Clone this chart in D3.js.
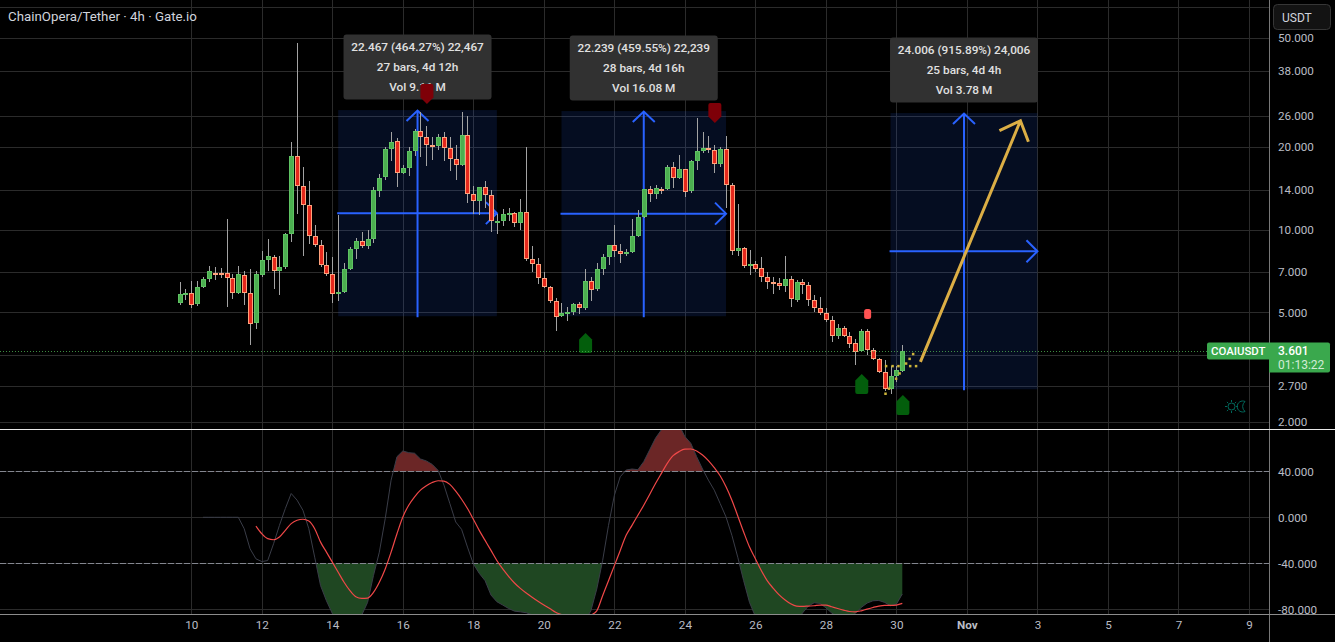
<!DOCTYPE html>
<html>
<head>
<meta charset="utf-8">
<style>
  html, body { margin: 0; background: #000; overflow: hidden; }
  svg { display: block; font-family: Roboto, sans-serif; }
</style>
<script src="https://cdn.jsdelivr.net/npm/d3@7"></script>
</head>
<body>
<svg id="chart" width="1335" height="642"></svg>
<script>
// COAI/USDT 4h candles, first bar at 9 Oct 16:00 UTC
const opens = [5.39,5.80,5.87,5.33,6.17,6.60,6.98,6.96,6.94,6.65,5.87,6.82,5.87,4.56,6.80,7.74,7.94,7.06,7.30,9.63,18.53,14.41,12.28,9.47,
8.78,7.42,6.88,5.80,5.90,7.18,8.49,9.08,8.68,9.23,13.89,15.49,19.65,21.02,16.07,16.76,19.27,22.86,21.74,20.38,20.10,21.74,19.82,18.07,
17.18,22.11,13.47,12.67,14.29,13.36,10.71,10.74,11.45,11.48,10.53,11.58,7.80,7.48,6.65,6.17,5.49,4.82,4.99,4.99,5.35,5.16,6.49,6.05,
7.18,7.94,8.78,8.35,8.12,8.25,9.47,11.07,14.05,13.43,14.09,14.01,16.90,15.36,16.62,13.77,17.77,19.33,19.82,19.49,17.28,19.65,14.53,8.35,
8.56,7.34,7.48,7.24,6.71,6.43,6.38,6.20,6.60,5.56,6.43,6.27,5.53,5.17,4.96,4.68,4.08,4.37,4.09,3.86,3.59,4.26,3.63,3.37,
3.02,2.61,2.91,3.06];
const highs = [6.43,6.07,6.49,6.52,6.75,7.38,7.34,7.26,10.92,6.90,7.38,7.10,7.20,7.10,8.37,9.23,8.09,8.05,9.71,20.90,47.86,16.94,15.07,10.38,
9.15,8.30,7.94,11.29,7.55,8.66,9.36,9.82,9.96,14.37,15.93,20.10,22.67,21.56,17.23,20.10,23.38,26.97,23.91,21.74,22.35,22.67,21.74,20.38,
26.81,26.00,14.45,14.37,15.07,13.97,11.42,11.91,12.04,11.65,12.95,20.10,8.73,7.89,7.04,6.24,5.63,5.39,5.24,5.42,5.47,7.20,6.71,7.59,
8.16,8.80,10.41,8.85,8.49,10.95,11.81,14.13,14.45,14.53,14.37,17.28,17.67,18.74,16.71,17.92,25.57,22.73,21.98,20.38,20.10,21.98,14.77,12.42,
8.68,8.44,7.68,7.94,7.00,6.73,6.69,8.03,6.79,6.56,6.60,6.45,5.79,5.69,5.17,4.85,4.54,4.46,4.23,4.00,4.35,4.35,3.72,3.41,
3.35,3.19,3.20,3.80];
const lows = [5.32,5.55,5.20,5.26,6.15,6.47,6.56,6.65,5.24,5.59,5.83,5.33,3.80,4.35,6.75,7.06,6.08,5.78,7.22,9.03,11.42,8.03,8.88,8.63,
7.34,6.79,5.41,5.52,5.87,7.14,7.85,8.56,8.54,8.93,13.21,15.19,17.82,14.37,15.93,15.71,18.58,18.38,17.09,17.97,19.54,17.87,16.43,15.19,
17.09,12.56,11.42,11.32,12.04,9.85,9.65,10.32,10.80,10.27,9.98,7.67,7.04,6.34,6.12,5.42,4.29,4.80,4.66,4.89,4.93,5.10,5.52,6.00,
6.84,7.44,7.94,7.59,8.03,8.21,9.39,11.01,12.67,12.92,13.51,13.93,14.21,15.28,13.13,13.58,16.52,19.11,19.06,16.16,16.99,12.01,8.09,8.03,
7.28,6.84,7.04,6.47,6.08,5.83,6.03,5.93,5.23,5.46,5.83,5.27,5.02,4.89,4.61,3.91,4.00,4.05,3.71,3.21,3.58,3.50,3.34,3.00,
2.59,2.52,2.79,3.02];
const closes = [5.82,5.87,5.29,6.17,6.60,7.06,6.90,6.92,6.65,5.87,6.88,5.87,4.51,6.88,7.74,8.00,7.04,7.30,9.63,18.53,14.37,12.25,9.44,8.75,
7.40,6.86,5.80,5.92,7.18,8.49,9.08,8.68,9.23,13.93,15.49,19.65,20.84,16.07,16.76,19.33,22.86,21.74,20.27,20.27,21.74,19.82,18.07,17.18,
22.11,13.47,12.67,14.29,13.32,10.71,10.74,11.42,11.52,10.53,11.58,7.78,7.48,6.64,6.17,5.47,4.82,4.96,5.02,5.35,5.16,6.49,6.03,7.18,
7.94,8.78,8.32,8.12,8.28,9.47,11.10,14.05,13.43,14.17,14.01,16.90,15.36,16.62,13.70,17.77,19.33,19.82,19.49,17.28,19.65,14.53,8.35,8.56,
7.34,7.48,7.20,6.71,6.42,6.40,6.20,6.60,5.58,6.45,6.26,5.52,5.17,4.95,4.66,4.08,4.37,4.08,3.84,3.59,4.26,3.63,3.36,3.01,
2.61,2.92,3.07,3.61];

// Oscillator pane: fast line from bar 4, slow line from bar 13
const fastStart = 4;
const fastLine = [0.0,0.0,0.0,0.0,0.0,0.0,0.0,-9.9,-27.4,-36.1,-38.5,-37.6,-23.0,-7.0,7.6,20.7,14.9,6.1,-9.9,-34.7,-59.4,-72.6,-83.6,-92.1,-97.3,-94.4,-91.5,-85.1,-74.0,-50.7,
-30.3,-1.2,32.3,52.7,57.7,56.2,55.7,50.7,49.0,46.0,40.8,28.0,12.0,-4.1,-10.5,-25.9,-40.5,-48.7,-55.1,-67.6,-73.4,-76.3,-79.3,-81.6,-82.2,-83.0,-84.8,-86.3,-88.0,-90.0,
-91.5,-92.1,-93.0,-93.0,-91.5,-90.0,-81.3,-62.4,-37.6,-7.0,19.2,35.3,41.1,42.0,41.4,48.4,58.6,68.8,76.1,81.9,83.3,80.4,70.2,64.4,52.7,42.0,32.3,23.6,12.0,0.3,
-15.7,-34.7,-55.1,-74.0,-86.3,-94.4,-97.3,-100.2,-100.2,-97.3,-94.4,-91.5,-83.3,-77.2,-74.3,-74.9,-78.7,-83.3,-86.3,-87.4,-87.1,-83.6,-78.4,-74.6,-72.6,-72.3,-74.0,-76.9,-75.5,-66.7];
const slowStart = 13;
const slowLine = [-7.6,-14.3,-18.6,-19.5,-17.2,-11.4,-5.5,-2.6,-1.7,-3.2,-9.9,-21.6,-30.3,-39.0,-47.8,-56.5,-63.8,-69.1,-70.5,-70.2,-65.3,-56.5,-44.9,-30.3,-14.3,0.3,10.5,17.8,23.6,27.4,
30.3,31.8,31.5,28.6,22.7,15.7,7.6,-1.7,-11.4,-20.1,-28.8,-37.6,-44.9,-51.3,-57.1,-61.8,-65.9,-69.6,-73.1,-76.3,-79.3,-82.5,-84.5,-85.7,-87.1,-88.6,-88.0,-85.1,-81.3,-68.2,
-55.1,-42.0,-28.8,-15.7,-7.0,1.8,10.5,19.8,29.4,38.2,46.9,53.6,57.1,59.2,59.4,57.7,54.2,49.3,43.1,36.1,26.5,14.9,1.2,-12.8,-25.9,-36.1,-46.3,-55.1,-61.5,-67.3,
-71.7,-75.2,-77.2,-77.5,-77.2,-76.9,-76.3,-76.3,-77.8,-79.3,-80.7,-81.9,-82.2,-81.3,-79.8,-78.4,-77.2,-76.6,-76.6,-76.3,-74.9];

// Price-range measurements: first bar, length, low, change
const rangeStartBars = [27, 65, 121];
const rangeBarCounts = [27, 28, 25];
const rangeLows = [4.839, 4.839, 2.621];
const rangeChanges = [22.467, 22.239, 24.006];
const rangeLabels = [
  ["22.467 (464.27%) 22,467", "27 bars, 4d 12h", "Vol 9.11 M"],
  ["22.239 (459.55%) 22,239", "28 bars, 4d 16h", "Vol 16.08 M"],
  ["24.006 (915.89%) 24,006", "25 bars, 4d 4h", "Vol 3.78 M"]
];

// Signal flags: bar position and price at the flag's tip
const sellBars = [42.1, 91.1];
const sellPrices = [28.76, 24.52];
const buyBars = [69.1, 116.1, 123.1];
const buyPrices = [4.20, 2.98, 2.50];
const alertBars = [117.1];
const alertPrices = [4.93];

// Projected move and the small dotted traces around it
const projectionBars = [126.08, 143.1];
const projectionPrices = [3.30, 24.97];
const dotBars = [120.1, 120.7, 121.9, 122.5, 123.6, 124.2, 124.8, 120.2, 121.3, 122.3, 124.3, 125.3];
const dotPrices = [2.53, 2.64, 2.87, 3.00, 3.26, 3.39, 3.53, 3.19, 3.19, 3.19, 3.19, 3.19];

const priceGrid = [65, 50, 38, 26, 20, 14, 10, 7, 5, 3.5, 2.7, 2];
const priceTicks = [50, 38, 26, 20, 14, 10, 7, 5, 2.7, 2];
const oscTicks = [40, 0, -40, -80];
const oscLevels = [40, -40];
const lastPrice = 3.601;
const timeTicks = [
  [2025, 9, 10], [2025, 9, 12], [2025, 9, 14], [2025, 9, 16], [2025, 9, 18], [2025, 9, 20],
  [2025, 9, 22], [2025, 9, 24], [2025, 9, 26], [2025, 9, 28], [2025, 9, 30], [2025, 10, 1],
  [2025, 10, 3], [2025, 10, 5], [2025, 10, 7], [2025, 10, 9]
].map(d => new Date(Date.UTC(d[0], d[1], d[2])));

const chartRight = 1269;
const firstBar = Date.UTC(2025, 9, 9, 16);
const barTime = i => new Date(firstBar + i * 4 * 3600e3);

const x = d3.scaleUtc()
  .domain([new Date(Date.UTC(2025, 9, 10)), new Date(Date.UTC(2025, 10, 9))])
  .range([191.3, 1249]);
const xBar = i => x(barTime(i));
const y = d3.scaleLog().domain([2, 50]).range([421.5, 38]);
const yOsc = d3.scaleLinear().domain([-80, 40]).range([609.3, 471.3]);

const svg = d3.select("#chart");
svg.append("rect").attr("width", 1335).attr("height", 642).attr("fill", "#000");

const defs = svg.append("defs");
const clipRect = (id, x0, y0, x1, y1) => defs.append("clipPath").attr("id", id).append("rect")
  .attr("x", x0).attr("y", y0).attr("width", x1 - x0).attr("height", y1 - y0);
clipRect("price-pane", 0, 0, chartRight, 429);
clipRect("osc-pane", 0, 430, chartRight, 614);
clipRect("osc-upper", 0, 430, chartRight, yOsc(40));
clipRect("osc-lower", 0, yOsc(-40), chartRight, 614);

// Grid
const grid = svg.append("g").attr("stroke", "#2b2b2b").attr("shape-rendering", "crispEdges");
grid.selectAll(".v").data(timeTicks).join("line")
  .attr("x1", d => Math.round(x(d)) + 0.5).attr("x2", d => Math.round(x(d)) + 0.5)
  .attr("y1", 0).attr("y2", 614);
grid.selectAll(".h").data(priceGrid).join("line")
  .attr("x1", 0).attr("x2", chartRight)
  .attr("y1", d => Math.round(y(d)) + 0.5).attr("y2", d => Math.round(y(d)) + 0.5);
grid.selectAll(".o").data(oscTicks).join("line")
  .attr("x1", 0).attr("x2", chartRight)
  .attr("y1", d => Math.round(yOsc(d)) + 0.5).attr("y2", d => Math.round(yOsc(d)) + 0.5);

// Price-range boxes with their crossed arrows
const pricePane = svg.append("g").attr("clip-path", "url(#price-pane)");
const ranges = rangeStartBars.map((s, i) => ({
  x0: xBar(s), x1: xBar(s + rangeBarCounts[i]),
  top: y(rangeLows[i] + rangeChanges[i]), bottom: y(rangeLows[i]),
  labels: rangeLabels[i]
}));
ranges.forEach(r => {
  const g = pricePane.append("g");
  const mx = (r.x0 + r.x1) / 2, my = (r.top + r.bottom) / 2;
  g.append("rect").attr("x", r.x0).attr("y", r.top)
    .attr("width", r.x1 - r.x0).attr("height", r.bottom - r.top)
    .attr("fill", "#2962ff").attr("fill-opacity", 0.13);
  const arrows = g.append("g").attr("stroke", "#2962ff").attr("stroke-width", 2).attr("fill", "none");
  arrows.append("line").attr("x1", mx).attr("x2", mx).attr("y1", r.bottom + 1).attr("y2", r.top + 1);
  arrows.append("path").attr("d", `M${mx - 11},${r.top + 11}L${mx},${r.top + 0.5}L${mx + 11},${r.top + 11}`);
  arrows.append("line").attr("x1", r.x0 - 1).attr("x2", r.x1).attr("y1", my).attr("y2", my);
  arrows.append("path").attr("d", `M${r.x1 - 11},${my - 11}L${r.x1},${my}L${r.x1 - 11},${my + 11}`);
});

// Candles
const bars = opens.map((o, i) => ({ i, o, h: highs[i], l: lows[i], c: closes[i], cx: Math.round(xBar(i)) }));
const candle = pricePane.append("g").attr("shape-rendering", "crispEdges");
candle.selectAll(".wick").data(bars).join("rect")
  .attr("x", d => d.cx).attr("width", 1)
  .attr("y", d => y(d.h)).attr("height", d => y(d.l) - y(d.h))
  .attr("fill", "#a3a3a3");
candle.selectAll(".body").data(bars).join("rect")
  .attr("x", d => d.cx - 2 + 0.5).attr("width", 4)
  .attr("y", d => Math.round(y(Math.max(d.o, d.c))) + 0.5)
  .attr("height", d => Math.max(1, Math.round(Math.abs(y(d.o) - y(d.c))) - 1))
  .attr("fill", d => d.c >= d.o ? "#4caf50" : "#e5281c")
  .attr("stroke", d => d.c >= d.o ? "#5fc263" : "#ffa27c");

// Dotted traces and projected-move arrow
const dots = svg.append("g").attr("clip-path", "url(#price-pane)");
dots.selectAll("rect").data(dotBars).join("rect")
  .attr("x", d => xBar(d) - 1).attr("width", 2.5).attr("height", 2.5)
  .attr("y", (d, i) => y(dotPrices[i]) - 1)
  .attr("fill", "#cdb43a");
const tail = [xBar(projectionBars[0]), y(projectionPrices[0])];
const tip = [xBar(projectionBars[1]), y(projectionPrices[1])];
svg.append("path")
  .attr("d", `M${tail[0]},${tail[1]}L${tip[0]},${tip[1]}M${tip[0] - 21},${tip[1] + 10}L${tip[0]},${tip[1]}L${tip[0] + 8},${tip[1] + 21}`)
  .attr("fill", "none").attr("stroke", "#dcae45").attr("stroke-width", 3);

// Measurement captions
ranges.forEach(r => {
  const mx = (r.x0 + r.x1) / 2;
  const g = svg.append("g").attr("transform", `translate(${mx},${r.top - 10.5})`);
  g.append("rect").attr("x", -74).attr("y", -65).attr("width", 148).attr("height", 65).attr("rx", 3).attr("fill", "#313131");
  g.selectAll("text").data(r.labels).join("text")
    .attr("y", (d, i) => -53 + i * 20.2).attr("dy", "0.35em")
    .attr("text-anchor", "middle").attr("font-size", 11.8).attr("font-weight", 500).attr("fill", "#e0e0e0")
    .text(d => d);
});

// Signal flags
const flagUp = "M0,0L6.5,6.5L6.5,18Q6.5,20 4.5,20L-4.5,20Q-6.5,20 -6.5,18L-6.5,6.5Z";
const flagDown = "M0,0L6.5,-6.5L6.5,-18Q6.5,-20 4.5,-20L-4.5,-20Q-6.5,-20 -6.5,-18L-6.5,-6.5Z";
const flags = svg.append("g");
flags.selectAll(".sell").data(sellBars).join("path")
  .attr("d", flagDown).attr("fill", "#7e0008")
  .attr("transform", (d, i) => `translate(${xBar(d)},${y(sellPrices[i])})`);
flags.selectAll(".buy").data(buyBars).join("path")
  .attr("d", flagUp).attr("fill", "#035e0c")
  .attr("transform", (d, i) => `translate(${xBar(d)},${y(buyPrices[i])})`);
flags.selectAll(".alert").data(alertBars).join("rect")
  .attr("x", d => xBar(d) - 3.5).attr("y", (d, i) => y(alertPrices[i]) - 5)
  .attr("width", 7).attr("height", 10).attr("rx", 2.5).attr("fill", "#ff5252");

// Oscillator pane
const oscPane = svg.append("g").attr("clip-path", "url(#osc-pane)");
const fast = fastLine.map((v, i) => ({ bar: i + fastStart, v }));
const slow = slowLine.map((v, i) => ({ bar: i + slowStart, v }));
const overbought = d3.area().x(d => xBar(d.bar)).y0(yOsc(40)).y1(d => yOsc(d.v));
const oversold = d3.area().x(d => xBar(d.bar)).y0(yOsc(-40)).y1(d => yOsc(d.v));
oscPane.append("g").attr("clip-path", "url(#osc-upper)").append("path")
  .attr("d", overbought(fast)).attr("fill", "#6b2626");
oscPane.append("g").attr("clip-path", "url(#osc-lower)").append("path")
  .attr("d", oversold(fast)).attr("fill", "#1f4722");
oscPane.selectAll(".level").data(oscLevels).join("line")
  .attr("x1", 0).attr("x2", chartRight)
  .attr("y1", d => Math.round(yOsc(d)) + 0.5).attr("y2", d => Math.round(yOsc(d)) + 0.5)
  .attr("stroke", "#83868f").attr("stroke-dasharray", "6,2").attr("shape-rendering", "crispEdges");
const oscLine = d3.line().x(d => xBar(d.bar)).y(d => yOsc(d.v));
oscPane.append("path").attr("d", oscLine(fast)).attr("fill", "none").attr("stroke", "#3a3d48").attr("stroke-width", 1);
oscPane.append("path").attr("d", oscLine.curve(d3.curveMonotoneX)(slow)).attr("fill", "none").attr("stroke", "#f04848").attr("stroke-width", 1.2);

// Last-price line across the chart
svg.append("line").attr("x1", 0).attr("x2", chartRight)
  .attr("y1", Math.round(y(lastPrice)) + 0.5).attr("y2", Math.round(y(lastPrice)) + 0.5)
  .attr("stroke", "#4caf50").attr("stroke-dasharray", "1,2").attr("stroke-opacity", 0.8);

// Pane frames
const frame = svg.append("g").attr("shape-rendering", "crispEdges");
frame.append("line").attr("x1", chartRight + 0.5).attr("x2", chartRight + 0.5).attr("y1", 0).attr("y2", 642).attr("stroke", "#787878");
frame.append("line").attr("x1", 0).attr("x2", 1335).attr("y1", 429.5).attr("y2", 429.5).attr("stroke", "#e8e8e8");
frame.append("line").attr("x1", 0).attr("x2", 1335).attr("y1", 614.5).attr("y2", 614.5).attr("stroke", "#8c8c8c");

// Axes
const styleAxis = g => {
  g.select(".domain").remove();
  g.selectAll(".tick line").remove();
  g.selectAll("text").attr("fill", "#b9bcc4").attr("font-size", 11.7).attr("font-family", "Roboto, sans-serif");
};
svg.append("g").attr("transform", `translate(${chartRight + 9},0)`)
  .call(d3.axisRight(y).tickValues(priceTicks).tickFormat(d3.format(".3f")).tickSize(0).tickPadding(0))
  .call(styleAxis);
svg.append("g").attr("transform", `translate(${chartRight + 9},0)`)
  .call(d3.axisRight(yOsc).tickValues(oscTicks).tickFormat(d => d3.format(".3f")(d).replace("\u2212", "-")).tickSize(0).tickPadding(0))
  .call(styleAxis);
svg.append("g").attr("transform", "translate(0,620.5)")
  .call(d3.axisBottom(x).tickValues(timeTicks).tickSize(0).tickPadding(0)
    .tickFormat(d => d.getUTCDate() === 1 ? "Nov" : String(d.getUTCDate())))
  .call(styleAxis)
  .selectAll("text").attr("font-weight", d => d.getUTCDate() === 1 ? 700 : 400);

// Title
svg.append("text").attr("x", 8).attr("y", 21).attr("font-size", 13.3).attr("fill", "#d1d4dc")
  .text("ChainOpera/Tether \u00b7 4h \u00b7 Gate.io");

// Currency button
svg.append("rect").attr("x", 1273.5).attr("y", 4.5).attr("width", 57).attr("height", 25).attr("rx", 4)
  .attr("fill", "#131313").attr("stroke", "#363636");
svg.append("text").attr("x", 1282).attr("y", 21.5).attr("font-size", 12).attr("fill", "#d1d4dc").text("USDT");

// Symbol and last-price tags
const ly = y(lastPrice);
const green = "#3aa84d";
svg.append("path").attr("fill", green)
  .attr("d", `M${chartRight},${ly - 9}H1209Q1207,${ly - 9} 1207,${ly - 7}V${ly + 6}Q1207,${ly + 8} 1209,${ly + 8}H${chartRight}Z`);
svg.append("text").attr("x", 1211).attr("y", ly + 4).attr("font-size", 11.4).attr("font-weight", 500).attr("fill", "#ffffff").text("COAIUSDT");
svg.append("path").attr("fill", green)
  .attr("d", `M${chartRight},${ly - 9}H1328Q1330,${ly - 9} 1330,${ly - 7}V${ly + 19}Q1330,${ly + 21} 1328,${ly + 21}H${chartRight}Z`);
svg.append("text").attr("x", 1278).attr("y", ly + 4).attr("font-size", 12).attr("font-weight", 500).attr("fill", "#ffffff").text(lastPrice.toFixed(3));
svg.append("text").attr("x", 1278).attr("y", ly + 18).attr("font-size", 12).attr("fill", "#d2ecd6").text("01:13:22");

// Day/night session icon
const icon = svg.append("g").attr("stroke", "#00695c").attr("fill", "none").attr("stroke-width", 1);
icon.append("circle").attr("cx", 1231.5).attr("cy", 406.5).attr("r", 3.5);
d3.range(8).forEach(k => {
  const a = k * Math.PI / 4;
  icon.append("line")
    .attr("x1", 1231.5 + 4.5 * Math.cos(a)).attr("y1", 406.5 + 4.5 * Math.sin(a))
    .attr("x2", 1231.5 + 6.5 * Math.cos(a)).attr("y2", 406.5 + 6.5 * Math.sin(a));
});
icon.append("path").attr("d", "M1245,401.5A5.5,5.5 0 1 0 1245,411.5A6.5,6.5 0 0 1 1245,401.5Z");
</script>
</body>
</html>
